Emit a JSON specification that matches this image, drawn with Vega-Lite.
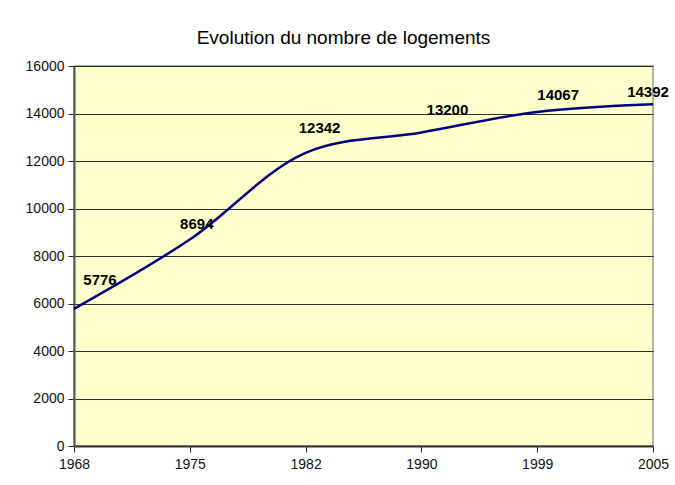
{
  "$schema": "https://vega.github.io/schema/vega-lite/v6.json",
  "autosize": "none",
  "width": 579,
  "height": 380,
  "padding": {"left": 74, "top": 66, "right": 22, "bottom": 39},
  "background": "#ffffff",
  "title": {
    "text": "Evolution du nombre de logements",
    "anchor": "middle",
    "frame": "group",
    "font": "Liberation Sans",
    "fontSize": 19,
    "fontWeight": "normal",
    "color": "#000000",
    "dx": -20,
    "offset": 11
  },
  "data": {
    "values": [
      {"annee": "1968", "logements": 5776},
      {"annee": "1975", "logements": 8694},
      {"annee": "1982", "logements": 12342},
      {"annee": "1990", "logements": 13200},
      {"annee": "1999", "logements": 14067},
      {"annee": "2005", "logements": 14392}
    ]
  },
  "encoding": {
    "x": {
      "field": "annee",
      "type": "ordinal",
      "scale": {"type": "point", "padding": 0},
      "sort": null,
      "axis": {
        "title": null,
        "labelAngle": 0,
        "labelFont": "Liberation Sans",
        "labelFontSize": 14,
        "labelColor": "#111111",
        "labelPadding": 5,
        "tickSize": 6,
        "tickColor": "#222222",
        "domainColor": "#333333",
        "domainWidth": 2,
        "grid": false
      }
    },
    "y": {
      "field": "logements",
      "type": "quantitative",
      "scale": {"domain": [0, 16000], "nice": false},
      "axis": {
        "title": null,
        "values": [0, 2000, 4000, 6000, 8000, 10000, 12000, 14000, 16000],
        "format": "d",
        "labelFont": "Liberation Sans",
        "labelFontSize": 14,
        "labelColor": "#111111",
        "labelPadding": 4,
        "tickSize": 6,
        "tickColor": "#222222",
        "domainColor": "#555555",
        "domainWidth": 2,
        "grid": true,
        "gridColor": "#1a1a1a",
        "gridWidth": 1,
        "gridOpacity": 0.9
      }
    }
  },
  "layer": [
    {
      "mark": {"type": "line", "interpolate": "catmull-rom", "color": "#000080", "strokeWidth": 2.5}
    },
    {
      "mark": {
        "type": "text",
        "font": "Liberation Sans",
        "fontSize": 15,
        "fontWeight": "bold",
        "color": "#000000",
        "align": "center",
        "baseline": "middle",
        "dx": {"expr": "datum.annee == '1968' ? 26 : datum.annee == '1975' ? 7 : datum.annee == '1982' ? 14 : datum.annee == '1990' ? 26 : datum.annee == '1999' ? 21 : -5"},
        "dy": {"expr": "datum.annee == '1968' ? -29 : datum.annee == '1975' ? -16 : datum.annee == '1982' ? -25 : datum.annee == '1990' ? -23 : datum.annee == '1999' ? -17 : -12"}
      },
      "encoding": {"text": {"field": "logements", "type": "quantitative", "format": "d"}}
    }
  ],
  "config": {
    "view": {"fill": "#FFFFCC", "stroke": "#999999", "strokeWidth": 1.5}
  }
}
